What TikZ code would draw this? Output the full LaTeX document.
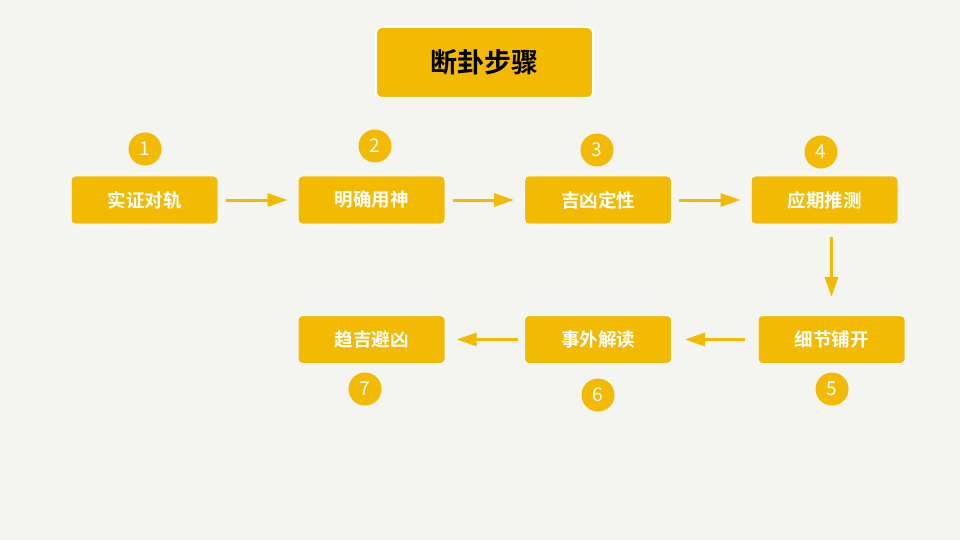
\documentclass[tikz,border=0pt]{standalone}
\usepackage{fontspec}
\setmainfont{Noto Sans CJK SC}
\newfontfamily\cjkb{Noto Sans CJK SC}[BoldFont={* Bold}]
\usetikzlibrary{arrows.meta}
\definecolor{gold}{HTML}{F2BA03}
\definecolor{paper}{HTML}{F4F4F0}
\tikzset{
  stepbox/.style={draw=white, line width=1pt, fill=gold, rounded corners=4pt, minimum width=147pt, minimum height=48pt, inner sep=0pt, text=white, font=\cjkb\bfseries\fontsize{18.5}{18.5}\selectfont},
  titlebox/.style={draw=white, line width=2pt, fill=gold, rounded corners=6pt, minimum width=217pt, minimum height=71pt, inner sep=0pt, text=black, font=\cjkb\bfseries\fontsize{27}{27}\selectfont},
  numdot/.style={circle, fill=gold, minimum size=33pt, inner sep=0pt, text=white, font=\fontsize{19}{19}\selectfont},
  arr/.style={draw=gold, line width=3pt, -{Triangle[length=20pt,width=13pt]}}
}
\begin{document}
\begin{tikzpicture}[x=1pt,y=-1pt]
\fill[paper] (0,0) rectangle (960,540);
\useasboundingbox (0,0) rectangle (960,540);
\node[titlebox] (title) at (484.5,62.5) {断卦步骤};
\node[stepbox] (b1) at (144.5,200) {实证对轨};
\node[stepbox] (b2) at (371.5,200) {明确用神};
\node[stepbox] (b3) at (598,200) {吉凶定性};
\node[stepbox] (b4) at (824.5,200) {应期推测};
\node[stepbox] (b5) at (831.5,339.5) {细节铺开};
\node[stepbox] (b6) at (598,339.5) {事外解读};
\node[stepbox] (b7) at (371.5,339.5) {趋吉避凶};
\node[numdot] (n1) at (145,149) {1};
\node[numdot] (n2) at (375,146) {2};
\node[numdot] (n3) at (597,150) {3};
\node[numdot] (n4) at (821,152) {4};
\node[numdot] (n5) at (832,389) {5};
\node[numdot] (n6) at (598,395) {6};
\node[numdot] (n7) at (365,389) {7};
\draw[arr, shorten <=7pt, shorten >=10pt] (b1.east) -- (b2.west);
\draw[arr, shorten <=7pt, shorten >=10pt] (b2.east) -- (b3.west);
\draw[arr, shorten <=7pt, shorten >=10pt] (b3.east) -- (b4.west);
\draw[arr, shorten <=12pt, shorten >=18pt] (b4.south -| b5.north) -- (b5.north);
\draw[arr, shorten <=13pt, shorten >=13pt] (b5.west) -- (b6.east);
\draw[arr, shorten <=6pt, shorten >=11pt] (b6.west) -- (b7.east);
\end{tikzpicture}
\end{document}
